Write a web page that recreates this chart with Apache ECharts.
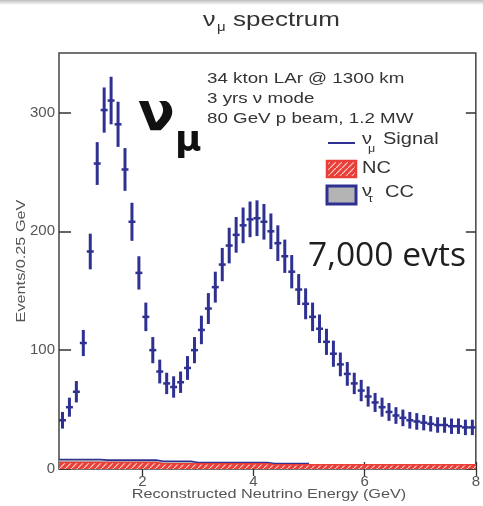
<!DOCTYPE html>
<html><head><meta charset="utf-8">
<script src="https://cdn.jsdelivr.net/npm/echarts@6/dist/echarts.min.js"></script>
<style>html,body{margin:0;padding:0;background:#fff}#c{width:483px;height:506px}</style>
</head><body><div id="c"></div>
<script>
// ---- data ----
const binStart = 0.5, binWidth = 0.125;      // reconstructed energy bins (GeV)
const signal = [41,52,65,106,183,257,302,310,290,252,
                208,165,128,100,82,72,69,73,85,100,
                117,135,153,172,188,197,205,210,211,208,
                200,190,179,166,151,139,128,118,107,97,
                88,80,72,66,61,56,52,48,45,43,
                41,40,39,38,37,37,36,36,35,35];
const signalErr = [7,8,9,11,15,18,19,20,19,18,
                   16,14,12,11,10,9,9,9,10,11,
                   12,13,13,14,15,15,15,15,15,15,
                   15,15,14,14,13,13,12,12,11,11,
                   10,10,9,9,8.5,8,8,7.5,7,7,
                   7,7,6.5,6.5,6.5,6.5,6.5,6.5,6.5,6.5];
const ncBkg = [5.5,5.5,5.5,5.5,5.5,5.5,5.5,5.5,5.5,5.5,5.5,5.5,5.5,5.5,
               4.5,4.5,4.5,4.5,4.5,4.5,4.5,4.5,4.5,4.5,4.5,4.5,4.5,4.5,4.5,4.5,
               3.5,3.5,3.5,3.5,3.5,3.5,3.5,3.5,3.5,3.5,3.5,3.5,3.5,3.5,3.5,
               3.5,3.5,3.5,3.5,3.5,3.5,3.5,3.5,3.5,3.5,3.5,3.5,3.5,3.5,3.5];
const nutauCC = [2.5,2.5,2.5,2.5,2.5,2.5,2,2,2,2,2,2,2,2,2,2,2,2,2,
                 1,1,1,1,1,1,1,1,1,1,1,1,1,1,1,1,1];
const xTicks = [2,4,6,8];
const yTicks = [0,100,200,300];

const NAVY = '#2e3192', RED = '#ea3f38';
const binCenters = signal.map((_, i) => binStart + binWidth * (i + 0.5));
function stepData(vals) {
  const d = vals.map((v, i) => [binStart + binWidth * i, v]);
  d.push([binStart + binWidth * vals.length, vals[vals.length - 1]]);
  return d;
}
const stackTop = nutauCC.map((v, i) => v + ncBkg[i]);

// hatch pattern for NC
const pc = document.createElement('canvas');
pc.width = 6; pc.height = 6;
const g = pc.getContext('2d');
g.fillStyle = RED; g.fillRect(0, 0, 6, 6);
g.strokeStyle = '#ffd0cc'; g.lineWidth = 1.2;
g.beginPath(); g.moveTo(0, 6); g.lineTo(6, 0); g.stroke();
const hatch = {image: pc, repeat: 'repeat'};

const chart = echarts.init(document.getElementById('c'), null, {renderer: 'canvas'});
const FONT = 'Liberation Sans';
const S = 1.25;
function txt(x, y, text, size, opts) {
  opts = opts || {};
  return {
    type: 'text', x: x, y: y, scaleX: opts.sx || S, rotation: opts.rot || 0, z: 100,
    style: {
      text: text, fontSize: size, fontFamily: opts.ff || FONT, fontWeight: opts.fw || 'normal',
      fill: opts.color || '#333',
      align: opts.align || 'left', textAlign: opts.align || 'left',
      verticalAlign: 'middle', textVerticalAlign: 'middle'
    }
  };
}

const option = {
  animation: false,
  grid: {left: 59, right: 3, top: 53, bottom: 37, show: true, borderColor: '#444', borderWidth: 1.5, backgroundColor: 'transparent'},
  xAxis: [
    {type: 'value', min: 0.5, max: 8, position: 'bottom',
     axisLine: {show: false}, splitLine: {show: false},
     axisTick: {inside: true, length: 7, customValues: xTicks, lineStyle: {color: '#333', width: 1.3}},
     axisLabel: {customValues: xTicks, fontSize: 15, color: '#555', margin: 5, fontFamily: FONT}},
    {type: 'value', min: 0.5, max: 8, position: 'top',
     axisLine: {show: false}, splitLine: {show: false},
     axisTick: {inside: true, length: 7, customValues: xTicks, lineStyle: {color: '#333', width: 1.3}},
     axisLabel: {show: false}}
  ],
  yAxis: [
    {type: 'value', min: 0, max: 350, position: 'left',
     axisLine: {show: false}, splitLine: {show: false},
     axisTick: {inside: true, length: 12, customValues: yTicks, lineStyle: {color: '#333', width: 1.5}},
     axisLabel: {customValues: yTicks, fontSize: 15, color: '#555', margin: 4, fontFamily: FONT}},
    {type: 'value', min: 0, max: 350, position: 'right',
     axisLine: {show: false}, splitLine: {show: false},
     axisTick: {inside: true, length: 10, customValues: yTicks, lineStyle: {color: '#333', width: 1.5}},
     axisLabel: {show: false}}
  ],
  series: [
    {name: 'nutau CC', type: 'line', step: 'end', data: stepData(stackTop), symbol: 'none',
     lineStyle: {color: NAVY, width: 1.6}, areaStyle: {color: '#b4b4b4', opacity: 1}, z: 2},
    {name: 'NC', type: 'line', step: 'end', data: stepData(ncBkg), symbol: 'none',
     lineStyle: {color: RED, width: 1.5}, areaStyle: {color: hatch, opacity: 1}, z: 3},
    {name: 'signal', type: 'custom', z: 5,
     data: signal.map((v, i) => [binCenters[i], v, signalErr[i]]),
     encode: {x: 0, y: 1},
     renderItem: function (params, api) {
       const x = api.value(0), y = api.value(1), e = api.value(2);
       const c = api.coord([x, y]);
       const t = api.coord([x, y + e]);
       const b = api.coord([x, y - e]);
       const l = api.coord([x - binWidth / 2, y]);
       const r = api.coord([x + binWidth / 2, y]);
       return {type: 'group', children: [
         {type: 'line', shape: {x1: c[0], y1: t[1], x2: c[0], y2: b[1]}, style: {stroke: NAVY, lineWidth: 3}},
         {type: 'line', shape: {x1: l[0], y1: c[1], x2: r[0], y2: c[1]}, style: {stroke: NAVY, lineWidth: 2.5}}
       ]};
     }}
  ],
  graphic: [
    {type: 'rect', shape: {x: 0, y: 0, width: 483, height: 5}, z: 100,
     style: {fill: new echarts.graphic.LinearGradient(0, 0, 0, 1, [{offset: 0, color: '#bdbdbd'}, {offset: 1, color: '#ffffff'}])}},
    // title
    txt(203, 20, 'ν', 20),
    txt(217, 28, 'μ', 12),
    txt(233, 20, 'spectrum', 20, {sx: 1.3}),
    // annotation block
    txt(207, 79, '34 kton LAr @ 1300 km', 15),
    txt(207, 99, '3 yrs ν mode', 15),
    txt(207, 119, '80 GeV p beam, 1.2 MW', 15),
    // big nu_mu
    txt(138, 116, 'ν', 54, {sx: 1, fw: 'bold', ff: 'DejaVu Sans', color: '#111'}),
    txt(175, 142, 'μ', 36, {sx: 1, fw: 'bold', ff: 'DejaVu Sans', color: '#111'}),
    // legend
    {type: 'line', shape: {x1: 328, y1: 143, x2: 355, y2: 143}, z: 100, style: {stroke: NAVY, lineWidth: 2}},
    txt(362, 140, 'ν', 16),
    txt(368, 149, 'μ', 10),
    txt(383, 140, 'Signal', 16),
    {type: 'rect', shape: {x: 327, y: 161, width: 29, height: 16}, z: 100, style: {fill: hatch, stroke: RED, lineWidth: 2.5}},
    txt(362, 169, 'NC', 16),
    {type: 'rect', shape: {x: 327, y: 186, width: 29, height: 18}, z: 100, style: {fill: '#b4b4b4', stroke: NAVY, lineWidth: 3}},
    txt(362, 192, 'ν', 16),
    txt(368, 199, 'τ', 10),
    txt(385, 193, 'CC', 16),
    // 7,000 evts
    txt(308, 257, '7,000 evts', 32, {sx: 1.05, ff: 'Open Sans', color: '#1e1e1e'}),
    // axis names
    txt(21, 261, 'Events/0.25 GeV', 13, {rot: Math.PI / 2, align: 'center', color: '#555'}),
    txt(269, 494, 'Reconstructed Neutrino Energy (GeV)', 13, {align: 'center', color: '#555'})
  ]
};
chart.setOption(option);
</script>
</body></html>
